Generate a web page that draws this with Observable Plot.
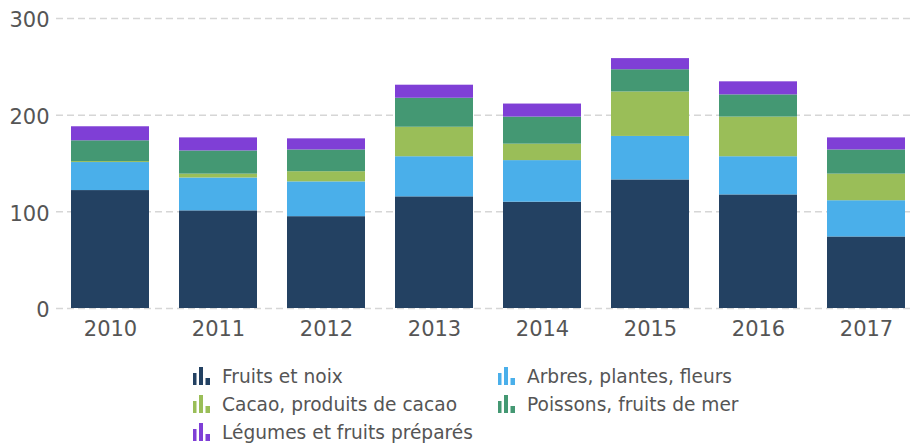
<!DOCTYPE html>
<html><head><meta charset="utf-8">
<script src="https://cdn.jsdelivr.net/npm/d3@7"></script>
<script src="https://cdn.jsdelivr.net/npm/@observablehq/plot@0.6"></script>
<style>
body{margin:0;background:#fff;font-family:"DejaVu Sans",Verdana,sans-serif;}
#legend{position:absolute;left:193px;top:362px;display:grid;grid-template-columns:305px 280px;row-gap:0;}
.item{display:flex;align-items:center;height:28px;font-size:18.6px;color:#555;white-space:nowrap;}
.item svg{margin-right:12px;flex-shrink:0;display:block;}
</style></head>
<body>
<div id="chart"></div>
<div id="legend"></div>
<script>
const years = ["2010","2011","2012","2013","2014","2015","2016","2017"];
const seriesNames = ["Fruits et noix","Arbres, plantes, fleurs","Cacao, produits de cacao","Poissons, fruits de mer","Légumes et fruits préparés"];
const colors = ["#234162","#4AAFEA","#9ABE58","#449873","#7F3FD6"];
const fruits   = [122, 101, 95, 115.5, 110, 133, 117.5, 74];
const arbres   = [29, 34, 36, 41.5, 43, 45, 39.5, 37.5];
const cacao    = [1, 4, 10.5, 30.5, 17, 46, 41, 27.5];
const poissons = [21.5, 24, 22.5, 30, 28, 23, 23, 25];
const legumes  = [14.5, 13.5, 11.5, 13.5, 13.5, 11.5, 13.5, 12.5];
const yTicks = [0, 100, 200, 300];

const seriesValues = [fruits, arbres, cacao, poissons, legumes];
const rows = [];
seriesNames.forEach((s, si) => years.forEach((y, yi) => rows.push({year: y, series: s, value: seriesValues[si][yi]})));

const chart = Plot.plot({
  width: 912, height: 350,
  marginLeft: 56, marginRight: 0, marginTop: 18, marginBottom: 42,
  style: {fontFamily: '"DejaVu Sans", Verdana, sans-serif', fontSize: "21px", color: "#555", background: "#fff", overflow: "visible"},
  x: {domain: years, range: [56, 920], paddingInner: 0.2778, paddingOuter: 0.1389, label: null},
  y: {domain: [0, 300], label: null},
  color: {domain: seriesNames, range: colors},
  marks: [
    Plot.gridY(yTicks, {stroke: "#d6d6d6", strokeOpacity: 1, strokeWidth: 1.5, strokeDasharray: "7,4"}),
    Plot.barY(rows, {x: "year", y: "value", fill: "series", order: null}),
    Plot.axisY(yTicks, {tickSize: 0, tickPadding: 7, label: null, fill: "#555", fontSize: 21, dy: 2}),
    Plot.axisX({tickSize: 0, tickPadding: 13, label: null, fill: "#555", fontSize: 21})
  ]
});
document.getElementById("chart").appendChild(chart);

const legend = document.getElementById("legend");
seriesNames.forEach((name, i) => {
  const d = document.createElement("div");
  d.className = "item";
  d.innerHTML = `<svg width="17" height="18" viewBox="0 0 17 18"><rect x="0" y="6" width="3.5" height="12" fill="${colors[i]}"/><rect x="6" y="0" width="4" height="18" fill="${colors[i]}"/><rect x="12.5" y="11" width="4.5" height="7" fill="${colors[i]}"/></svg><span>${name}</span>`;
  legend.appendChild(d);
});
</script>
</body></html>
